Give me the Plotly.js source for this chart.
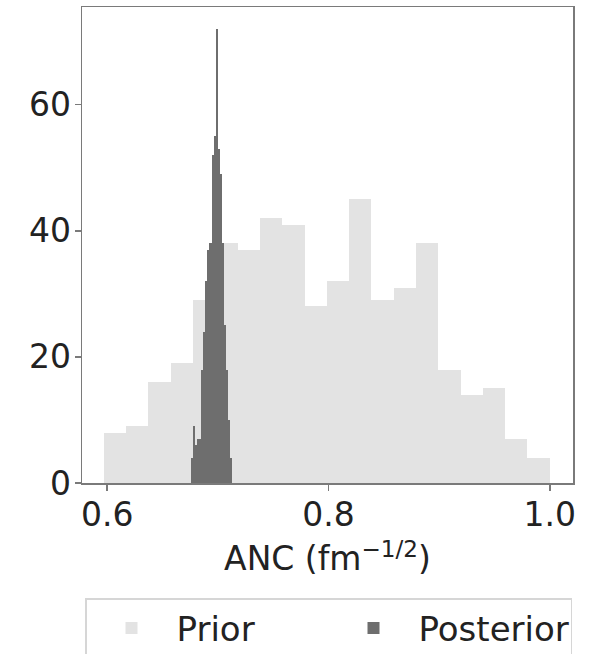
<!DOCTYPE html>
<html>
<head>
<meta charset="utf-8">
<script src="https://cdn.plot.ly/plotly-3.0.1.min.js"></script>
<style>html,body{margin:0;padding:0;background:#fff;}#chart{width:602px;height:654px;}</style>
</head>
<body>
<div id="chart"></div>
<script>
// Prior histogram: 20 equal bins between these edges
const priorBinStart = 0.597;
const priorBinEnd = 1.0;
const priorCounts = [8, 9, 16, 19, 29, 38, 37, 42, 41, 28, 32, 45, 29, 31, 38, 18, 14, 15, 7, 4];

// Posterior histogram: 20 equal bins between these edges
const posteriorBinStart = 0.6757;
const posteriorBinEnd = 0.7128;
const posteriorCounts = [4, 9, 6, 7, 7, 18, 24, 32, 37, 38, 52, 55, 72, 53, 49, 38, 25, 18, 10, 4];

const seriesNames = ['Prior', 'Posterior'];
const xTickVals = [0.6, 0.8, 1.0];
const xTickText = ['0.6', '0.8', '1.0'];
const yTickVals = [0, 20, 40, 60];

function binCenters(start, end, n) {
  const w = (end - start) / n;
  const out = [];
  for (let i = 0; i < n; i++) out.push(start + (i + 0.5) * w);
  return {x: out, w: w};
}

const pb = binCenters(priorBinStart, priorBinEnd, priorCounts.length);
const qb = binCenters(posteriorBinStart, posteriorBinEnd, posteriorCounts.length);

const FONT = 'DejaVu Sans, sans-serif';

const traces = [
  {
    type: 'bar', name: seriesNames[0],
    x: pb.x, y: priorCounts, width: pb.w,
    marker: {color: '#e3e3e3', line: {width: 0}},
    hoverinfo: 'x+y'
  },
  {
    type: 'bar', name: seriesNames[1],
    x: qb.x, y: posteriorCounts, width: qb.w,
    marker: {color: '#6e6e6e', line: {width: 0}},
    hoverinfo: 'x+y'
  }
];

const layout = {
  width: 602, height: 654,
  margin: {l: 82, r: 29, t: 7, b: 171},
  paper_bgcolor: '#ffffff', plot_bgcolor: '#ffffff',
  barmode: 'overlay', bargap: 0,
  font: {family: FONT, size: 34, color: '#222222'},
  xaxis: {
    range: [0.5772, 1.021],
    tickvals: xTickVals, ticktext: xTickText,
    ticks: 'outside', ticklen: 6, tickwidth: 1.5, tickcolor: '#7a7a7a',
    ticklabelstandoff: -4,
    showline: true, mirror: true, linecolor: '#7a7a7a', linewidth: 1.5,
    showgrid: false, zeroline: false,
    tickfont: {family: FONT, size: 33, color: '#222222'},
    title: {text: 'ANC (fm<sup>\u22121/2</sup>)', font: {family: FONT, size: 33, color: '#222222'}, standoff: 14}
  },
  yaxis: {
    range: [0, 75.5],
    tickvals: yTickVals,
    ticks: 'outside', ticklen: 6, tickwidth: 1.5, tickcolor: '#7a7a7a',
    ticklabelstandoff: -3,
    showline: true, mirror: true, linecolor: '#7a7a7a', linewidth: 1.5,
    showgrid: false, zeroline: false,
    tickfont: {family: FONT, size: 33, color: '#222222'}
  },
  showlegend: true,
  legend: {
    orientation: 'h',
    xref: 'container', yref: 'container',
    x: 0.1412, xanchor: 'left',
    y: 0.0856, yanchor: 'top',
    bgcolor: '#ffffff', bordercolor: '#d6d6d6', borderwidth: 1.5,
    font: {family: FONT, size: 34, color: '#222222'},
    itemwidth: 80,
    entrywidth: 147,
    traceorder: 'normal'
  }
};

Plotly.newPlot('chart', traces, layout, {displayModeBar: false, staticPlot: true});
</script>
</body>
</html>
